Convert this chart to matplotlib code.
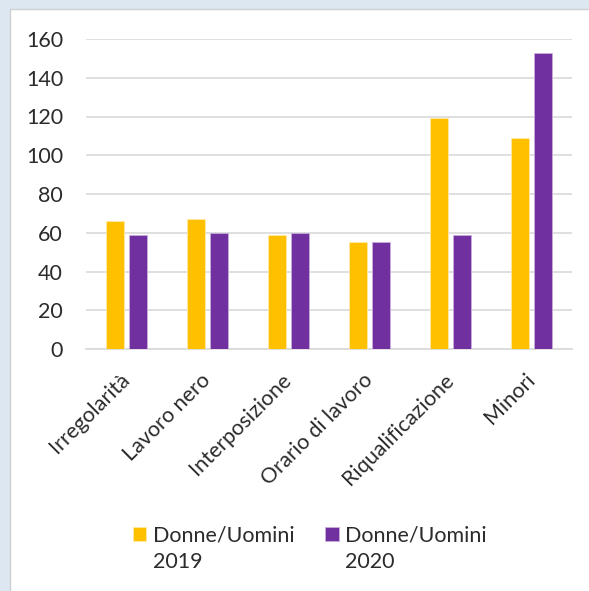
import matplotlib
matplotlib.use("Agg")
import matplotlib.pyplot as plt
import matplotlib.patches as mpatches
from matplotlib.container import BarContainer
from matplotlib.legend_handler import HandlerPatch, update_from_first_child
import numpy as np

plt.rcParams['font.family'] = ['Lato', 'DejaVu Sans']

categories = ["Irregolarità", "Lavoro nero", "Interposizione", "Orario di lavoro",
              "Riqualificazione", "Minori"]
values_2019 = [66, 67, 59, 55, 119, 109]
values_2020 = [59, 60, 60, 55, 59, 153]
series_labels = ["Donne/Uomini\n2019", "Donne/Uomini\n2020"]
yticks = [0, 20, 40, 60, 80, 100, 120, 140, 160]

col_2019 = "#FFC000"
col_2020 = "#7030A0"
text_col = "#2B2B2B"
grid_col = "#D9D9D9"
FS = 15.5

W, H = 589, 591
fig = plt.figure(figsize=(W / 100, H / 100), dpi=100, facecolor="#DDE7F2")
panel = mpatches.Rectangle((10 / W, -0.01), 1.0, 1 - 9 / H + 0.01,
                           transform=fig.transFigure, facecolor="white",
                           edgecolor="#CFCFCF", linewidth=1.0, zorder=-5)
fig.patches.append(panel)

ax = fig.add_axes([86 / W, 1 - 349 / H, (572 - 86) / W, (349 - 39) / H])
ax.set_facecolor("none")
ax.set_zorder(2)

x = np.arange(len(categories))
bw = 0.222
off = 0.142
ax.bar(x - off, values_2019, width=bw, color=col_2019, edgecolor="#FFE9A8",
       linewidth=0.6, label=series_labels[0], zorder=3)
ax.bar(x + off, values_2020, width=bw, color=col_2020, edgecolor="#C9ADDD",
       linewidth=0.6, label=series_labels[1], zorder=3)

ax.set_xlim(-0.5, len(categories) - 0.5)
ax.set_ylim(0, 160)
ax.set_yticks(yticks)
ax.set_yticklabels([str(v) for v in yticks])
ax.yaxis.grid(True, color=grid_col, linewidth=1.2, zorder=0)
ax.set_axisbelow(True)
for s in ["top", "right", "left"]:
    ax.spines[s].set_visible(False)
ax.spines["bottom"].set_color(grid_col)
ax.spines["bottom"].set_linewidth(1.2)
ax.tick_params(axis="both", length=0, labelsize=FS, colors=text_col)
ax.tick_params(axis="y", pad=16.5)
ax.tick_params(axis="x", pad=20)
ax.set_xticks(x)
ax.set_xticklabels(categories, rotation=45, ha="right", va="center",
                   rotation_mode="anchor")


def square_handle(legend, orig_handle, xdescent, ydescent, width, height, fontsize):
    s = width
    return mpatches.Rectangle((-xdescent, -ydescent + height / 2 - s / 2 + 0.72 * fontsize), s, s)


handles, labels = ax.get_legend_handles_labels()
leg = fig.legend(handles, labels, loc="center", bbox_to_anchor=(0.526, 1 - 549 / H),
                 ncol=2, frameon=False, fontsize=FS, handlelength=0.62,
                 handleheight=0.62, handletextpad=0.3, columnspacing=1.45,
                 borderpad=0, labelcolor=text_col,
                 handler_map={BarContainer: HandlerPatch(patch_func=square_handle,
                                                         update_func=update_from_first_child)})
for t in leg.get_texts():
    t.set_linespacing(1.42)

fig.savefig("out.png", dpi=100, facecolor=fig.get_facecolor())
